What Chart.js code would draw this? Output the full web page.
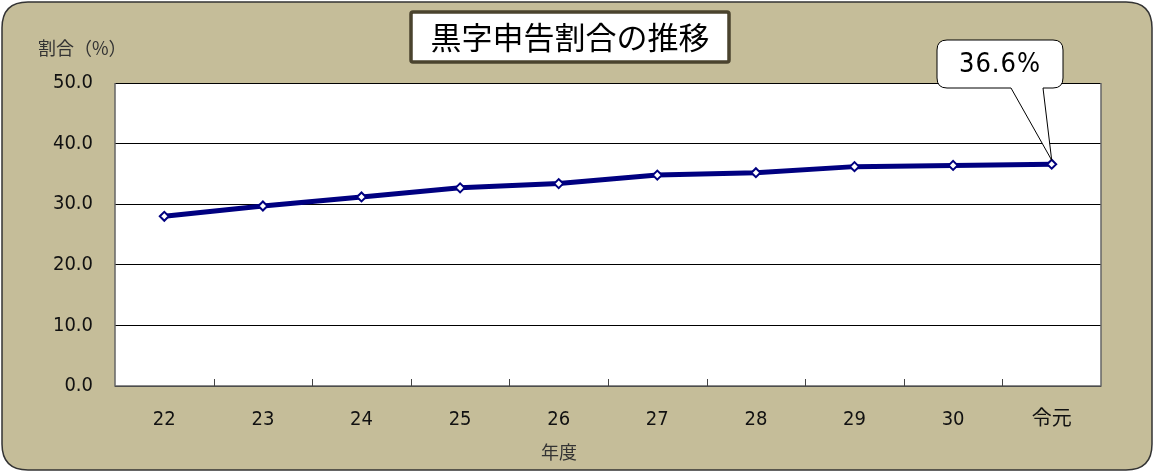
<!DOCTYPE html>
<html>
<head>
<meta charset="utf-8">
<script src="https://cdn.jsdelivr.net/npm/chart.js@4/dist/chart.umd.min.js"></script>
<style>
  html, body { margin: 0; padding: 0; background: #fff; }
  canvas { display: block; }
</style>
</head>
<body>
<canvas id="chart" width="1157" height="476"></canvas>
<script>
// data
const years = ['22', '23', '24', '25', '26', '27', '28', '29', '30', '令元'];
const ratio = [28.0, 29.7, 31.2, 32.7, 33.4, 34.8, 35.2, 36.2, 36.4, 36.6];
const yTicks = [0, 10, 20, 30, 40, 50];

const titleText = '黒字申告割合の推移';
const yTitle = '割合（%）';
const xTitle = '年度';
const calloutText = '36.6%';

const jpFont = '"Noto Sans CJK JP", sans-serif';
const numFont = '"DejaVu Sans Condensed", "Noto Sans CJK JP", sans-serif';

function roundRect(ctx, x, y, w, h, r) {
  ctx.beginPath();
  ctx.moveTo(x + r, y);
  ctx.lineTo(x + w - r, y);
  ctx.quadraticCurveTo(x + w, y, x + w, y + r);
  ctx.lineTo(x + w, y + h - r);
  ctx.quadraticCurveTo(x + w, y + h, x + w - r, y + h);
  ctx.lineTo(x + r, y + h);
  ctx.quadraticCurveTo(x, y + h, x, y + h - r);
  ctx.lineTo(x, y + r);
  ctx.quadraticCurveTo(x, y, x + r, y);
  ctx.closePath();
}

const frame = {
  id: 'frame',
  beforeDraw(chart) {
    const ctx = chart.ctx;
    const a = chart.chartArea;
    ctx.save();
    // outer panel
    roundRect(ctx, 2, 2, 1150, 468, 26);
    ctx.fillStyle = '#c5bd99';
    ctx.fill();
    ctx.lineWidth = 1.5;
    ctx.strokeStyle = '#333';
    ctx.stroke();
    // plot area
    ctx.fillStyle = '#fff';
    ctx.fillRect(a.left, a.top, a.right - a.left, a.bottom - a.top);
    ctx.restore();
  },
  afterDatasetsDraw(chart) {
    const ctx = chart.ctx;
    const a = chart.chartArea;
    const x = chart.scales.x;
    const y = chart.scales.y;
    ctx.save();
    // plot border left/right/bottom
    ctx.strokeStyle = '#666';
    ctx.lineWidth = 1.5;
    ctx.beginPath();
    ctx.moveTo(a.left, a.top);
    ctx.lineTo(a.left, a.bottom);
    ctx.lineTo(a.right, a.bottom);
    ctx.lineTo(a.right, a.top);
    ctx.stroke();
    // inward ticks between categories
    ctx.lineWidth = 1;
    ctx.strokeStyle = '#444';
    for (let i = 0; i < years.length - 1; i++) {
      const px = Math.round((x.getPixelForValue(i) + x.getPixelForValue(i + 1)) / 2) + 0.5;
      ctx.beginPath();
      ctx.moveTo(px, a.bottom);
      ctx.lineTo(px, a.bottom - 7);
      ctx.stroke();
    }

    // title box
    ctx.fillStyle = '#fff';
    roundRect(ctx, 411, 12, 318, 50, 2);
    ctx.fill();
    ctx.lineWidth = 3.5;
    ctx.strokeStyle = '#4a432e';
    ctx.stroke();
    ctx.fillStyle = '#000';
    ctx.font = '31px ' + jpFont;
    ctx.textAlign = 'center';
    ctx.textBaseline = 'middle';
    ctx.fillText(titleText, 570, 37);

    // axis titles
    ctx.fillStyle = '#333';
    ctx.font = '18px ' + jpFont;
    ctx.textAlign = 'left';
    ctx.fillText(yTitle, 38, 48);
    ctx.fillText(xTitle, 541, 452);

    // callout for last point
    const last = ratio.length - 1;
    const pxL = x.getPixelForValue(last);
    const pyL = y.getPixelForValue(ratio[last]);
    const bx = 937, by = 40, bw = 126, bh = 48, r = 10;
    ctx.beginPath();
    ctx.moveTo(bx + r, by);
    ctx.lineTo(bx + bw - r, by);
    ctx.quadraticCurveTo(bx + bw, by, bx + bw, by + r);
    ctx.lineTo(bx + bw, by + bh - r);
    ctx.quadraticCurveTo(bx + bw, by + bh, bx + bw - r, by + bh);
    ctx.lineTo(1043, by + bh);
    ctx.lineTo(pxL, pyL - 4);
    ctx.lineTo(1011, by + bh);
    ctx.lineTo(bx + r, by + bh);
    ctx.quadraticCurveTo(bx, by + bh, bx, by + bh - r);
    ctx.lineTo(bx, by + r);
    ctx.quadraticCurveTo(bx, by, bx + r, by);
    ctx.closePath();
    ctx.fillStyle = '#fff';
    ctx.fill();
    ctx.lineWidth = 1;
    ctx.strokeStyle = '#000';
    ctx.stroke();
    ctx.fillStyle = '#000';
    ctx.font = '27px ' + numFont;
    ctx.textAlign = 'center';
    ctx.letterSpacing = '1px';
    ctx.fillText(calloutText, bx + bw / 2, by + 25);
    ctx.restore();
  }
};

new Chart(document.getElementById('chart'), {
  type: 'line',
  data: {
    labels: years,
    datasets: [{
      data: ratio,
      borderColor: '#000080',
      borderWidth: 5,
      tension: 0,
      pointStyle: 'rectRot',
      pointRadius: 4.5,
      pointBorderWidth: 2,
      pointBackgroundColor: '#fff',
      pointBorderColor: '#000080'
    }]
  },
  options: {
    responsive: false,
    animation: false,
    layout: { padding: { left: 0, top: 83, right: 56, bottom: 0 } },
    plugins: {
      legend: { display: false },
      tooltip: { enabled: false }
    },
    scales: {
      x: {
        offset: true,
        grid: { display: false, offset: true },
        border: { display: false },
        ticks: {
          color: '#111',
          padding: 14,
          font: { size: 20, family: numFont }
        },
        afterFit(s) { s.height = 90; }
      },
      y: {
        min: 0,
        max: 50,
        afterBuildTicks(s) { s.ticks = yTicks.map(v => ({ value: v })); },
        grid: { color: '#000', lineWidth: 1, drawTicks: false },
        border: { display: false },
        ticks: {
          color: '#111',
          padding: 22,
          font: { size: 20, family: numFont },
          callback: v => Number(v).toFixed(1)
        },
        afterFit(s) { s.width = 115; }
      }
    }
  },
  plugins: [frame]
});
</script>
</body>
</html>
